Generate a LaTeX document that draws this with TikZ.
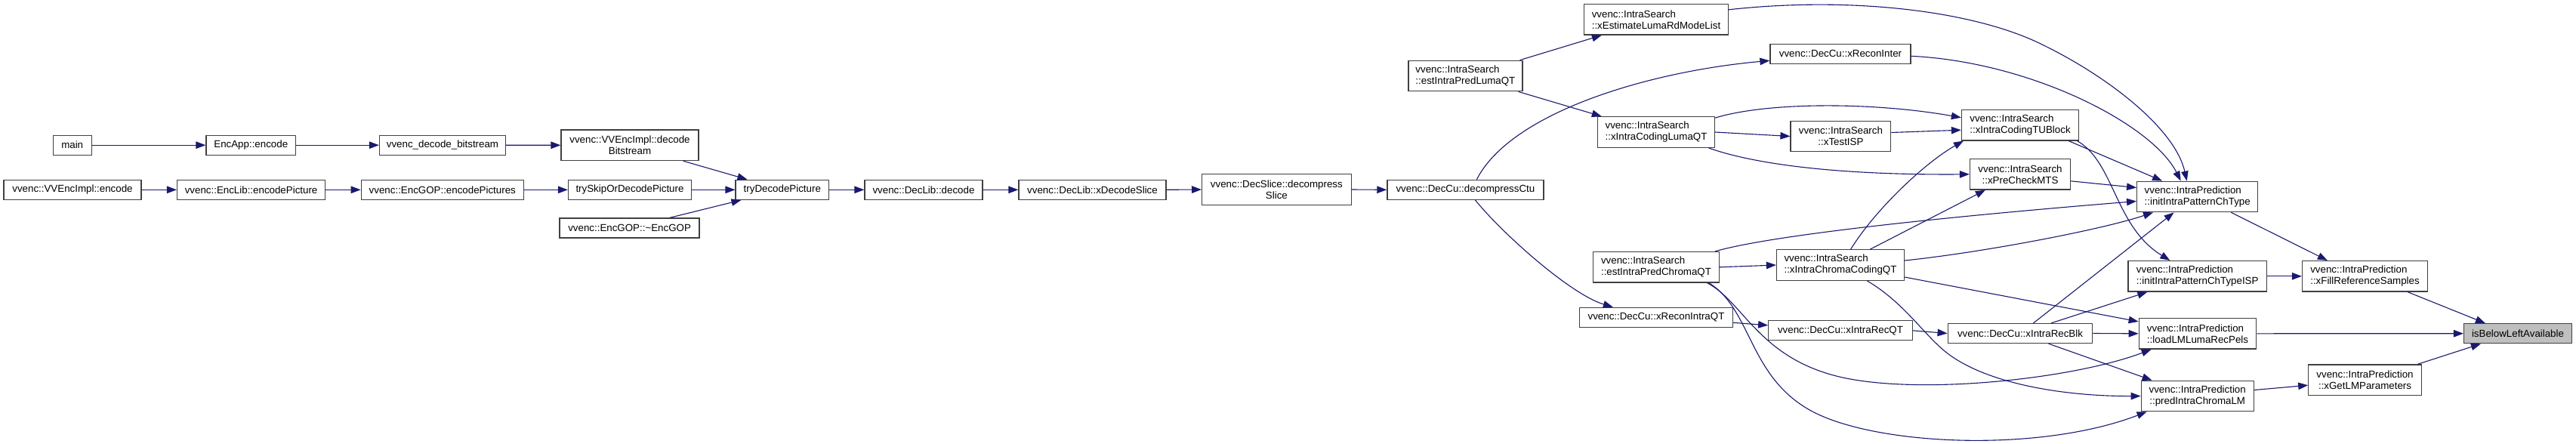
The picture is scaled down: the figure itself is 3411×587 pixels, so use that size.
\documentclass[tikz,border=0pt]{standalone}
\usepackage{fontspec}
\setmainfont{Liberation Sans}
\usepackage{tikz}
\usetikzlibrary{arrows.meta, calc}

\definecolor{edgeblue}{HTML}{191970}
\definecolor{selgray}{HTML}{BFBFBF}

\tikzset{
  fn/.style={draw=black!75, line width=1.3pt, fill=white, inner sep=2pt,
    minimum height=26pt, font=\fontsize{13.33}{15}\selectfont},
  fnn/.style={fn, minimum height=40.5pt, align=left},
  call/.style={draw=edgeblue, line width=1.1pt, -{Triangle[length=13pt,width=9.5pt]}}
}

\begin{document}
\begin{tikzpicture}[x=1pt, y=-1pt]
    \useasboundingbox (0,0) rectangle (3411,587);
    % callers, left part
    \node[fn, minimum width=51pt] (main) at (95.7,192.2) {main};
    \node[fn, minimum width=118.6pt] (encapp) at (332.3,192.2) {EncApp::encode};
    \node[fn, minimum width=167pt] (decbs) at (586,192.2) {vvenc\_decode\_bitstream};
    \node[fnn, align=center, minimum width=182pt] (impldec) at (834,192.3) {vvenc::VVEncImpl::decode\\Bitstream};
    \node[fn, minimum width=182pt] (implenc) at (96,251.3) {vvenc::VVEncImpl::encode};
    \node[fn, minimum width=196pt] (encpic) at (332.6,251.3) {vvenc::EncLib::encodePicture};
    \node[fn, minimum width=215pt] (encpics) at (585.8,251.3) {vvenc::EncGOP::encodePictures};
    \node[fn, minimum width=163pt] (tryskip) at (834,251.3) {trySkipOrDecodePicture};
    \node[fn, minimum width=185pt] (gopdtor) at (833.6,302) {vvenc::EncGOP::\textasciitilde EncGOP};
    \node[fn, minimum width=123.4pt] (trydec) at (1035.8,251.3) {tryDecodePicture};
    \node[fn, minimum width=156pt] (libdec) at (1223,251.3) {vvenc::DecLib::decode};
    \node[fn, minimum width=195pt] (xdecslice) at (1446.5,251.3) {vvenc::DecLib::xDecodeSlice};
    \node[fnn, align=center, minimum width=197.5pt] (decslice) at (1690.4,251) {vvenc::DecSlice::decompress\\Slice};
    \node[fn, minimum width=207pt] (decctu) at (1940.4,251.3) {vvenc::DecCu::decompressCtu};
    % intra search / reconstruction
    \node[fnn, minimum width=151pt] (estluma) at (1940.4,100.5) {vvenc::IntraSearch\\::estIntraPredLumaQT};
    \node[fnn, minimum width=191pt] (xestrd) at (2193,25.8) {vvenc::IntraSearch\\::xEstimateLumaRdModeList};
    \node[fn, minimum width=186pt] (xrecinter) at (2437,71.3) {vvenc::DecCu::xReconInter};
    \node[fnn, minimum width=155pt] (xlumaqt) at (2193,175) {vvenc::IntraSearch\\::xIntraCodingLumaQT};
    \node[fnn, align=center, minimum width=132.6pt] (xtestisp) at (2437.4,180.5) {vvenc::IntraSearch\\::xTestISP};
    \node[fnn, minimum width=155pt] (xcodingtu) at (2675,165.7) {vvenc::IntraSearch\\::xIntraCodingTUBlock};
    \node[fnn, align=center, minimum width=133pt] (xprecheck) at (2675,230.8) {vvenc::IntraSearch\\::xPreCheckMTS};
    \node[fnn, minimum width=160pt] (initpat) at (2909.7,260.5) {vvenc::IntraPrediction\\::initIntraPatternChType};
    \node[fnn, minimum width=166.5pt] (estchroma) at (2193,353.8) {vvenc::IntraSearch\\::estIntraPredChromaQT};
    \node[fn, minimum width=203pt] (xrecintra) at (2193,420.3) {vvenc::DecCu::xReconIntraQT};
    \node[fnn, minimum width=169pt] (xchromaqt) at (2437,351) {vvenc::IntraSearch\\::xIntraChromaCodingQT};
    \node[fn, minimum width=190.5pt] (xrecqt) at (2437,437.8) {vvenc::DecCu::xIntraRecQT};
    \node[fn, minimum width=191.6pt] (xrecblk) at (2675,441.5) {vvenc::DecCu::xIntraRecBlk};
    % intra prediction
    \node[fnn, minimum width=183.4pt] (initpatisp) at (2909.7,365.8) {vvenc::IntraPrediction\\::initIntraPatternChTypeISP};
    \node[fnn, minimum width=166pt] (xfillref) at (3131.5,365.8) {vvenc::IntraPrediction\\::xFillReferenceSamples};
    \node[fnn, minimum width=155.4pt] (loadlm) at (2910,441.8) {vvenc::IntraPrediction\\::loadLMLumaRecPels};
    \node[fnn, align=center, minimum width=149pt] (predlm) at (2909.7,524.5) {vvenc::IntraPrediction\\::predIntraChromaLM};
    \node[fnn, align=center, minimum width=149.4pt] (xgetlm) at (3131.5,503.2) {vvenc::IntraPrediction\\::xGetLMParameters};
    \node[fn, fill=selgray, minimum width=142.8pt] (below) at (3334,441.7) {isBelowLeftAvailable};

    % straight calls
    \foreach \a/\b in {main/encapp, encapp/decbs, decbs/impldec, implenc/encpic,
        encpic/encpics, encpics/tryskip, tryskip/trydec, trydec/libdec,
        libdec/xdecslice, xdecslice/decslice, decslice/decctu, estchroma/xchromaqt,
        xlumaqt/xtestisp, xrecqt/xrecblk, xrecblk/loadlm, initpatisp/xfillref, loadlm/below}
      \draw[call] (\a.east) -- (\b.west);
    \draw[call] ($(impldec.south east)+(-21,0)$) -- ($(trydec.north west)+(16,0)$);
    \draw[call] ($(gopdtor.north east)+(-40,0)$) -- ($(trydec.south west)+(8,0)$);
    \draw[call] ($(estluma.north east)+(-4,0)$) -- ($(xestrd.south west)+(24,0)$);
    \draw[call] ($(estluma.south east)+(-6,0)$) -- ($(xlumaqt.north west)+(6,0)$);
    \draw[call] ($(xtestisp.east)+(0,-5)$) -- ($(xcodingtu.west)+(0,6.5)$);
    \draw[call] ($(xcodingtu.south east)+(-14,0)$) -- ($(initpat.north west)+(34,0)$);
    \draw[call] ($(xprecheck.east)+(0,9)$) -- ($(initpat.west)+(0,-12)$);
    \draw[call] ($(xchromaqt.north west)+(124.5,0)$) -- ($(xprecheck.south west)+(21,0)$);
    \draw[call] ($(xchromaqt.east)+(0,16)$) -- ($(loadlm.north west)+(0,5)$);
    \draw[call] ($(xrecintra.east)+(0,7)$) -- ($(xrecqt.west)+(0,-7)$);
    \draw[call] ($(xrecblk.north west)+(114,0)$) -- ($(initpat.south west)+(49.5,0)$);
    \draw[call] ($(xrecblk.north west)+(137.6,0)$) -- ($(initpatisp.south west)+(26,0)$);
    \draw[call] ($(xrecblk.south west)+(134,0)$) -- ($(predlm.north west)+(15,0)$);
    \draw[call] ($(initpat.south east)+(-36,0)$) -- ($(xfillref.north west)+(34,0)$);
    \draw[call] ($(xfillref.south east)+(-27,0)$) -- ($(below.north west)+(29,0)$);
    \draw[call] ($(xgetlm.north east)+(-5.5,0)$) -- ($(below.south west)+(23,0)$);
    \draw[call] ($(predlm.east)+(0,-8)$) -- ($(xgetlm.west)+(0,7)$);

    % curved calls
    \draw[call] ($(decctu.north)+(15,0)$) .. controls (2000,150) and (2180,95) .. ($(xrecinter.west)+(0,9)$);
    \draw[call] ($(decctu.south)+(13,0)$) .. controls (1990,310) and (2080,390) .. ($(xrecintra.north west)+(45,0)$);
    \draw[call] ($(xestrd.east)+(0,-13)$) .. controls (2450,-5) and (2610,14) .. (2700,57)
      .. controls (2790,100) and (2880,170) .. ($(initpat.north)+(-14,0)$);
    \draw[call] ($(xrecinter.east)+(0,3)$) .. controls (2690,82) and (2850,165) .. ($(initpat.north)+(-22,0)$);
    \draw[call] ($(xlumaqt.north east)+(0,2)$) .. controls (2340,135) and (2480,135) .. ($(xcodingtu.west)+(0,-10)$);
    \draw[call] ($(xlumaqt.south east)+(-8.7,0)$) .. controls (2330,220) and (2450,232) .. (xprecheck.west);
    \draw[call] ($(xcodingtu.south east)+(-2.6,0)$) .. controls (2800,215) and (2800,300) .. ($(initpatisp.north west)+(56,0)$);
    \draw[call] ($(estchroma.north east)+(-6,0)$) .. controls (2350,310) and (2600,285) .. ($(initpat.west)+(0,6)$);
    \draw[call] ($(xchromaqt.north west)+(98.7,0)$) .. controls (2485,275) and (2550,215) .. ($(xcodingtu.south west)+(3,0)$);
    \draw[call] ($(xchromaqt.east)+(0,-6)$) .. controls (2620,335) and (2780,305) .. ($(initpat.south west)+(22,0)$);
    \draw[call] ($(estchroma.south east)+(-16.4,0)$) .. controls (2310,400) and (2330,480) .. (2450,502)
      .. controls (2560,522) and (2750,500) .. ($(loadlm.south west)+(17,0)$);
    \draw[call] ($(estchroma.south east)+(-14,0)$) .. controls (2320,410) and (2315,500) .. (2400,545)
      .. controls (2485,590) and (2700,600) .. ($(predlm.south west)+(8,0)$);
    \draw[call] ($(xchromaqt.south west)+(120.5,0)$) .. controls (2520,400) and (2545,440) .. (2575,465)
      .. controls (2630,510) and (2740,525) .. (predlm.west);
  \end{tikzpicture}
\end{document}
